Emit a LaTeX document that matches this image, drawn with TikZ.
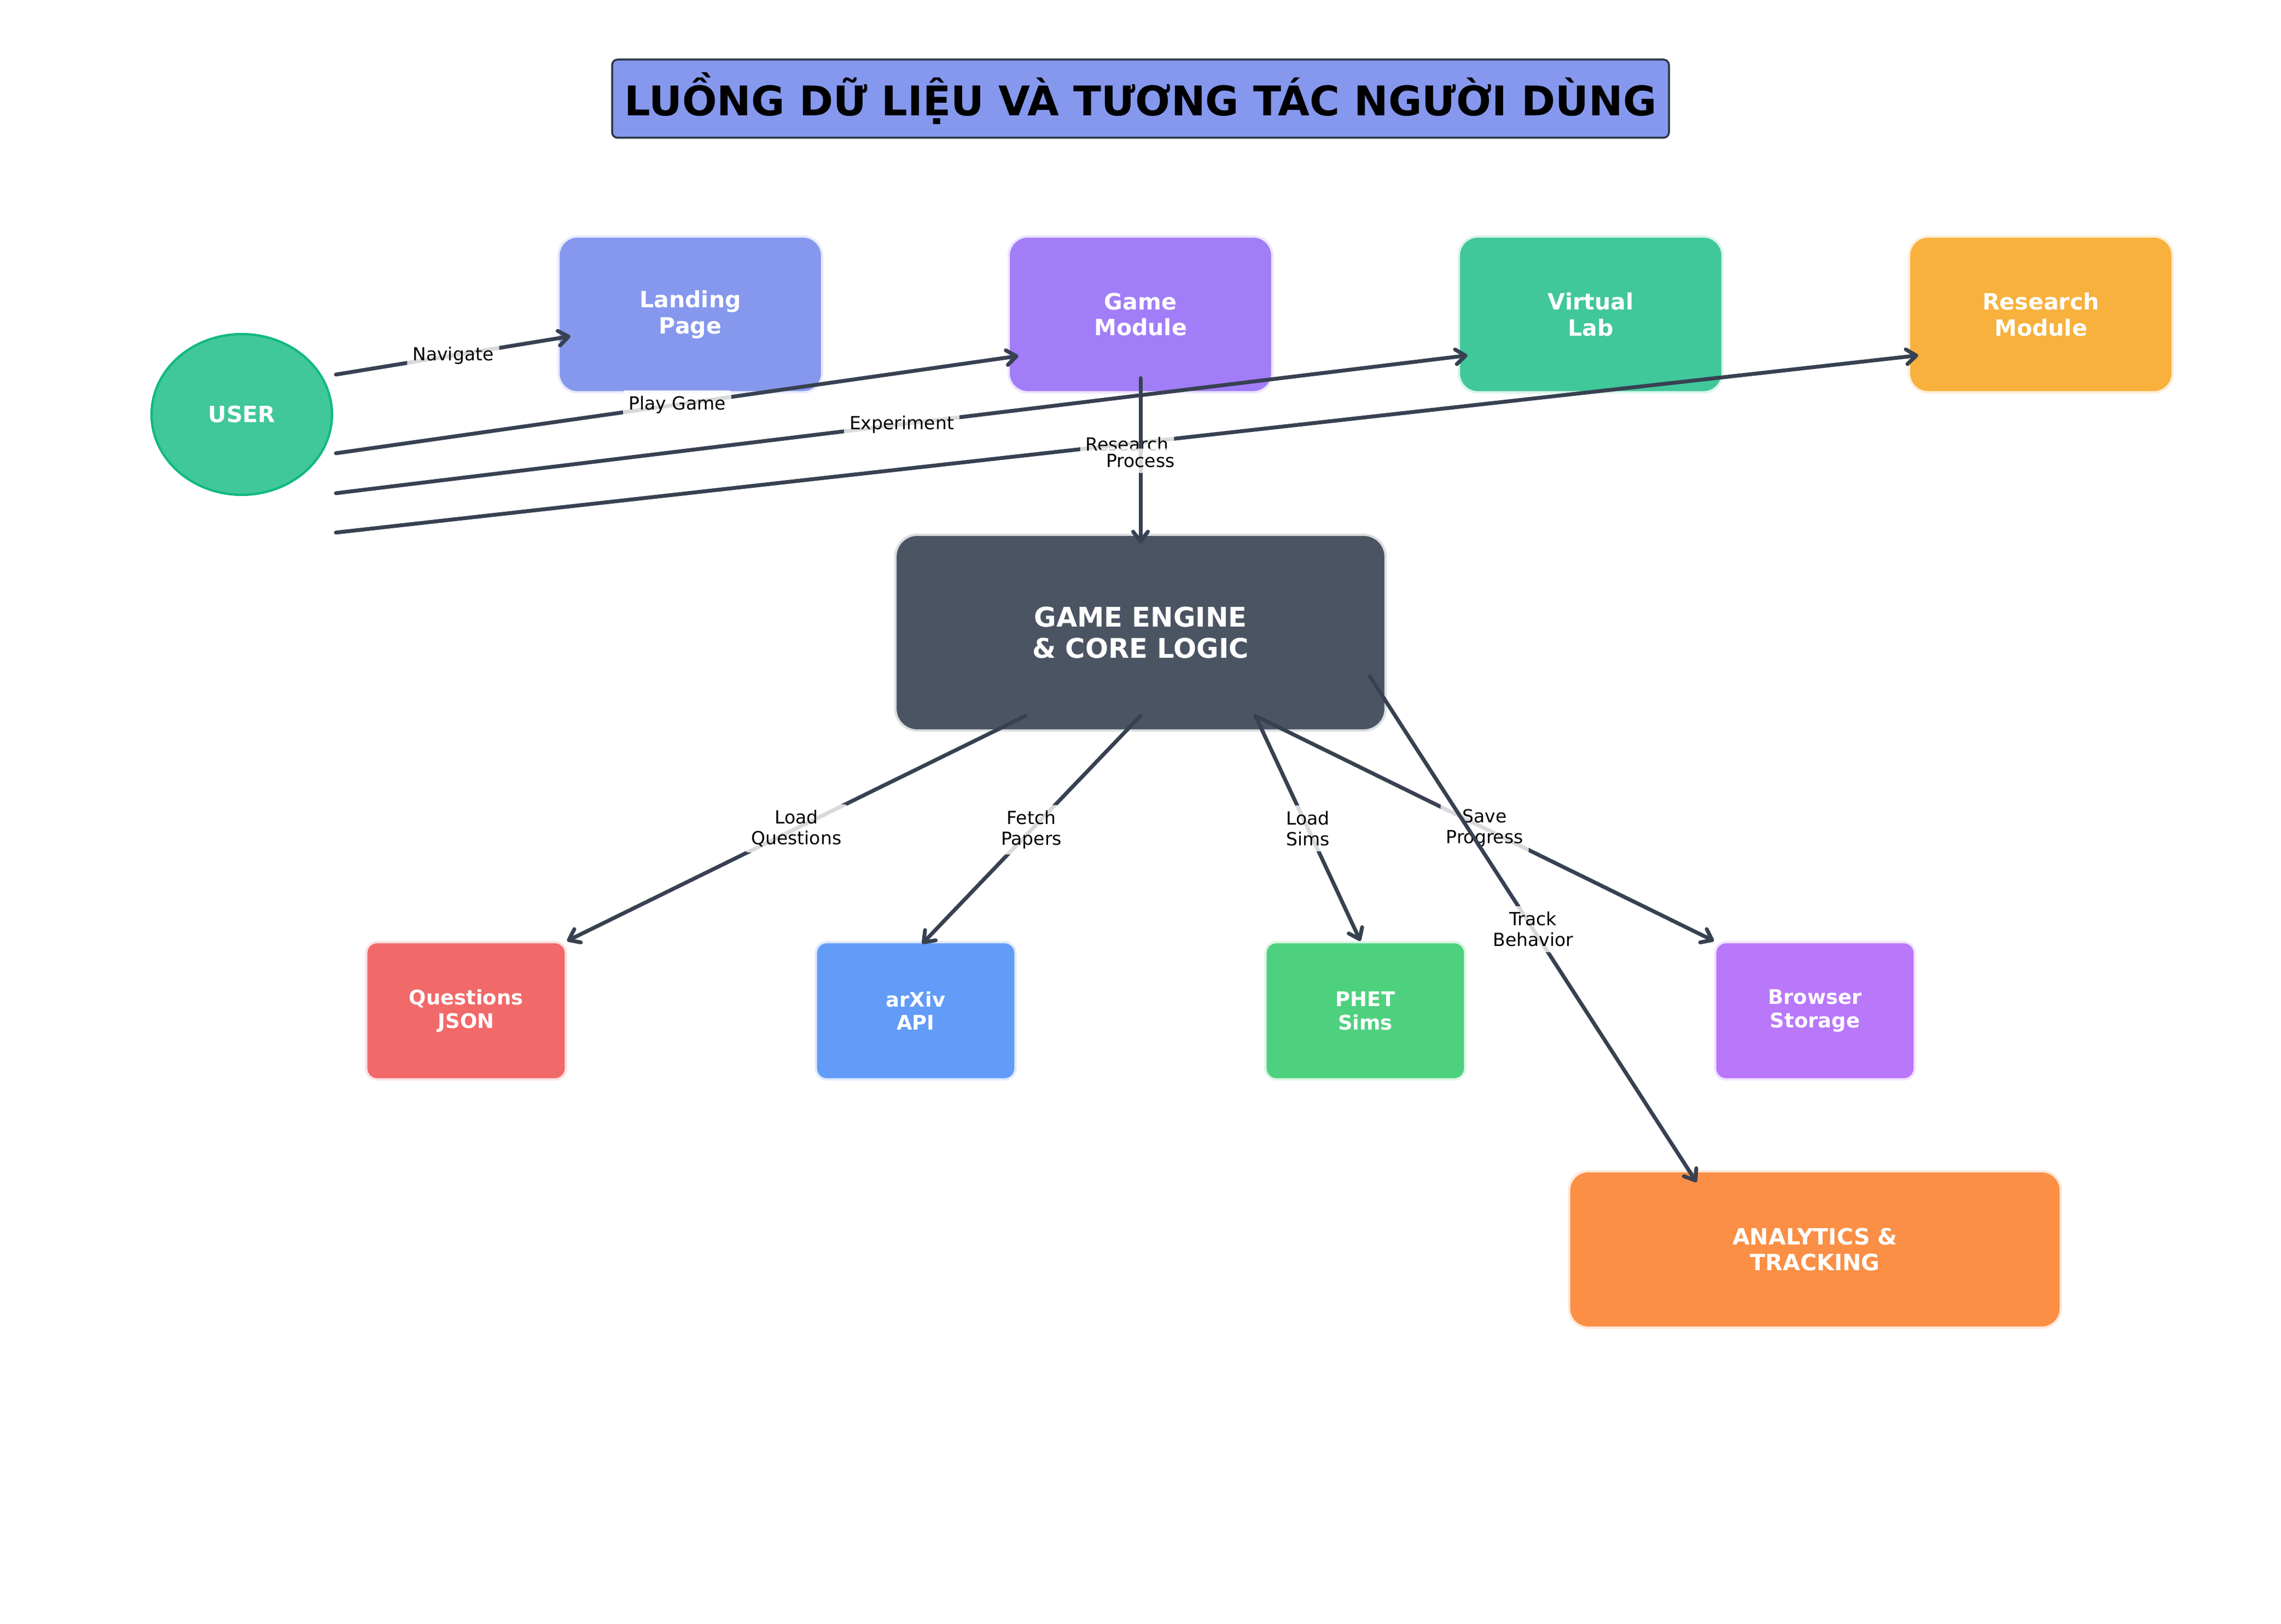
\documentclass[tikz,border=0pt]{standalone}
\usepackage{fontspec}
\setmainfont{DejaVu Sans}
\usetikzlibrary{shapes.geometric,arrows.meta}
\definecolor{ink}{HTML}{374151}
\definecolor{titleline}{HTML}{2D3748}
\definecolor{cLanding}{HTML}{8598EE}
\definecolor{cGame}{HTML}{A27DF8}
\definecolor{cLab}{HTML}{40C79A}
\definecolor{cResearch}{HTML}{F7B13C}
\definecolor{cUserline}{HTML}{10B981}
\definecolor{cEngine}{HTML}{4B5462}
\definecolor{cQuestions}{HTML}{F26969}
\definecolor{cArxiv}{HTML}{629BF8}
\definecolor{cPhet}{HTML}{4ED17E}
\definecolor{cStorage}{HTML}{B977F9}
\definecolor{cAnalytics}{HTML}{FA8F45}
\begin{document}
\begin{tikzpicture}[line join=round,line cap=round,>={Straight Barb[length=1.8mm,width=2.7mm,line cap=round,round]}]
	\useasboundingbox (0,0) rectangle (41.7,29.7);
	\tikzset{
		box/.style={rectangle,rounded corners=3.5mm,fill=#1,draw=white!80!#1,line width=1.2pt,text=white,align=center,inner sep=0pt,font=\fontsize{11.7}{13.6}\selectfont\bfseries},
		top/.style={box=#1,minimum width=4.82cm,minimum height=2.85cm},
		store/.style={box=#1,rounded corners=2mm,minimum width=3.65cm,minimum height=2.51cm,font=\fontsize{10.5}{12.2}\selectfont\bfseries},
		flow/.style={->,draw=ink,line width=2pt},
		lbl/.style={fill=white,fill opacity=.8,text opacity=1,inner sep=1mm,rounded corners=1pt,align=center,text=black,font=\fontsize{9.4}{10.9}\selectfont}
	}
	% title
	\node[draw=titleline,line width=1pt,fill=cLanding,rounded corners=1mm,minimum width=19.32cm,minimum height=1.43cm,font=\fontsize{21.3}{25}\selectfont\bfseries] (title) at (20.85,27.895) {LUỒNG DỮ LIỆU VÀ TƯƠNG TÁC NGƯỜI DÙNG};
	% modules
	\node[top=cLanding] (landing) at (12.62,23.95) {Landing\\Page};
	\node[top=cGame] (game) at (20.85,23.95) {Game\\Module};
	\node[top=cLab] (lab) at (29.08,23.95) {Virtual\\Lab};
	\node[top=cResearch] (research) at (37.31,23.95) {Research\\Module};
	\node[ellipse,fill=cLab,draw=cUserline,line width=1.2pt,minimum width=3.3cm,minimum height=2.94cm,inner sep=0pt,text=white,font=\fontsize{11.7}{13.6}\selectfont\bfseries] (user) at (4.42,22.12) {USER};
	\node[box=cEngine,rounded corners=4mm,minimum width=8.96cm,minimum height=3.58cm,font=\fontsize{14.1}{16.2}\selectfont\bfseries] (engine) at (20.85,18.13) {GAME ENGINE\\\& CORE LOGIC};
	% data
	\node[store=cQuestions] (questions) at (8.52,11.215) {Questions\\JSON};
	\node[store=cArxiv] (arxiv) at (16.74,11.215) {arXiv\\API};
	\node[store=cPhet] (phet) at (24.96,11.215) {PHET\\Sims};
	\node[store=cStorage] (storage) at (33.18,11.215) {Browser\\Storage};
	\node[box=cAnalytics,minimum width=8.99cm,minimum height=2.86cm] (analytics) at (33.18,6.85) {ANALYTICS \&\\TRACKING};
	% flows
	\draw[flow] ([xshift=.05cm,yshift=.73cm]user.east) -- node[lbl]{Navigate} ([xshift=.24cm,yshift=-.4cm]landing.west);
	\draw[flow] ([xshift=.05cm,yshift=-.71cm]user.east) -- node[lbl]{Play Game} ([xshift=.2cm,yshift=-.76cm]game.west);
	\draw[flow] ([xshift=.05cm,yshift=-1.44cm]user.east) -- node[lbl]{Experiment} ([xshift=.18cm,yshift=-.75cm]lab.west);
	\draw[flow] ([xshift=.05cm,yshift=-2.16cm]user.east) -- node[lbl]{Research} ([xshift=.19cm,yshift=-.75cm]research.west);
	\draw[flow] ([yshift=.28cm]game.south) -- node[lbl]{Process} ([yshift=-.18cm]engine.north);
	\draw[flow] ([xshift=-2.1cm,yshift=.29cm]engine.south) -- node[lbl]{Load\\Questions} (questions.north east);
	\draw[flow] ([yshift=.29cm]engine.south) -- node[lbl]{Fetch\\Papers} ([xshift=.12cm,yshift=-.05cm]arxiv.north);
	\draw[flow] ([xshift=2.1cm,yshift=.29cm]engine.south) -- node[lbl]{Load\\Sims} ([xshift=-.09cm]phet.north);
	\draw[flow] ([xshift=2.1cm,yshift=.29cm]engine.south) -- node[lbl]{Save\\Progress} (storage.north west);
	\draw[flow] ([xshift=-.31cm,yshift=-.8cm]engine.east) -- node[lbl]{Track\\Behavior} ([xshift=2.35cm,yshift=-.22cm]analytics.north west);
\end{tikzpicture}
\end{document}
